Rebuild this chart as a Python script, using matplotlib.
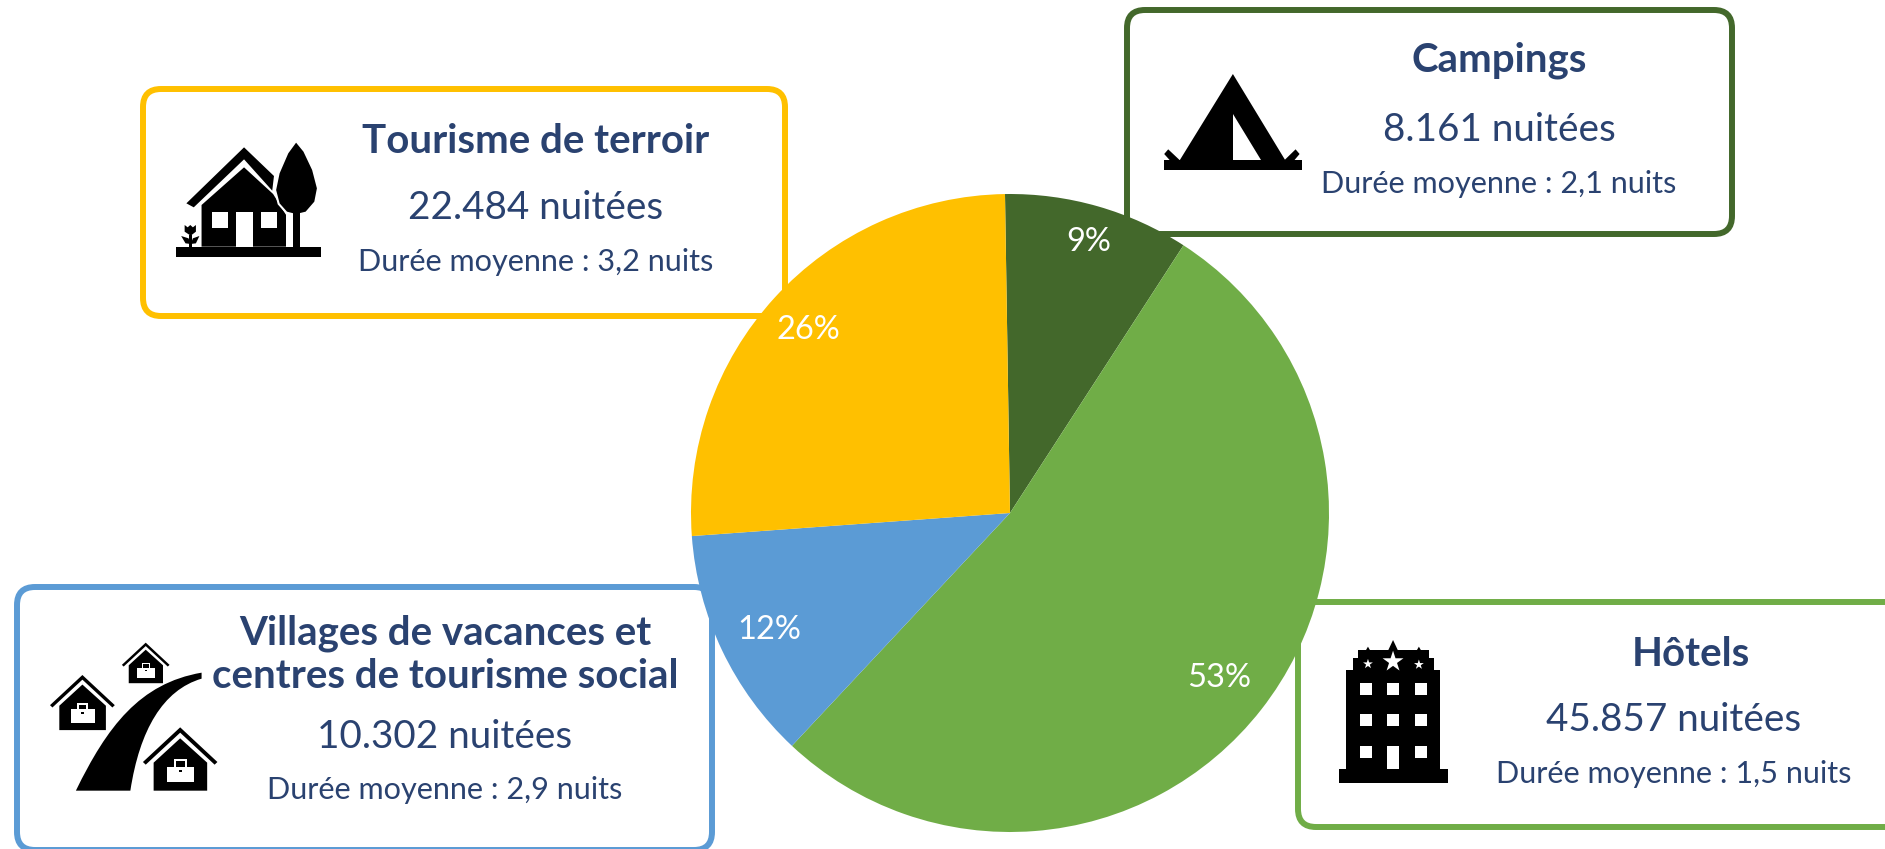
import matplotlib
matplotlib.use('Agg')
import numpy as np
import matplotlib.pyplot as plt
from matplotlib.patches import FancyBboxPatch, Polygon, PathPatch
from matplotlib.path import Path

plt.rcParams['font.family'] = ['Lato', 'DejaVu Sans']

# data
categories = ['Campings', 'Hôtels', 'Villages de vacances et\ncentres de tourisme social', 'Tourisme de terroir']
nuitees = [8161, 45857, 10302, 22484]
nuitees_labels = ['8.161 nuitées', '45.857 nuitées', '10.302 nuitées', '22.484 nuitées']
duree_labels = ['Durée moyenne : 2,1 nuits', 'Durée moyenne : 1,5 nuits',
                'Durée moyenne : 2,9 nuits', 'Durée moyenne : 3,2 nuits']
colors = ['#43682B', '#70AD47', '#5B9BD5', '#FFC000']

W, H = 1885, 849
NAVY = '#2A4270'

fig = plt.figure(figsize=(W / 100, H / 100), dpi=100, facecolor='white')
ax = fig.add_axes([0, 0, 1, 1])
ax.set_xlim(0, W)
ax.set_ylim(H, 0)
ax.axis('off')

# boxes: x0, y0, x1, y1 in pixels
boxes = [(1127, 10, 1732, 234), (1298, 602, 1905, 827), (17, 587, 712, 850), (143, 89, 785, 316)]
for (x0, y0, x1, y1), c in zip(boxes, colors):
    ax.add_patch(FancyBboxPatch((x0 + 18, y0 + 18), x1 - x0 - 36, y1 - y0 - 36,
                                boxstyle='round,pad=18,rounding_size=18',
                                fc='white', ec=c, lw=4.3, clip_on=False))

# text positions: title, nuitees, duree
title_pos = [(1499, 60), (1691, 654), (445, 655), (536, 141)]
nuit_pos = [(1499, 130), (1674, 720), (445, 737), (536, 208)]
duree_pos = [(1499, 184), (1674, 774), (445, 790), (536, 262)]
for i in range(4):
    ax.text(*title_pos[i], categories[i], ha='center', va='center', color=NAVY,
            fontsize=29, fontweight='bold', linespacing=1.2)
    ax.text(*nuit_pos[i], nuitees_labels[i], ha='center', va='center', color=NAVY, fontsize=27.8)
    ax.text(*duree_pos[i], duree_labels[i], ha='center', va='center', color=NAVY, fontsize=22.1)


# icons are traced in the coordinates of the zoomed crops
def mapper(x0, y0, sx, sy):
    return lambda pts: [(x0 + p[0] / sx, y0 + p[1] / sy) for p in pts]


def poly(m, pts, c='black', **kw):
    ax.add_patch(Polygon(m(pts), closed=True, fc=c, ec=kw.pop('ec', 'none'), lw=kw.pop('lw', 0), **kw))


def rect(m, x0, y0, x1, y1, c='black'):
    poly(m, [(x0, y0), (x1, y0), (x1, y1), (x0, y1)], c)


# house + tree
m = mapper(130, 70, 2.306, 3)
rect(m, 105, 530, 440, 560)
poly(m, [(130, 400), (263, 232), (332, 318), (328, 362), (263, 268), (147, 412)])
poly(m, [(165, 405), (263, 292), (330, 372), (360, 435), (360, 530), (165, 530)])
rect(m, 188, 427, 226, 475, 'white')
rect(m, 245, 427, 283, 530, 'white')
rect(m, 302, 427, 340, 475, 'white')
crown = [(383, 218), (365, 250), (345, 310), (337, 360), (345, 400), (362, 425), (383, 432),
         (405, 425), (425, 395), (431, 355), (420, 300), (400, 245)]
poly(m, crown, 'white', ec='white', lw=3)
poly(m, crown)
rect(m, 360, 432, 375, 530, 'white')
rect(m, 375, 430, 391, 530)
rect(m, 137, 495, 143, 530)
poly(m, [(126, 465), (133, 472), (139, 465), (145, 472), (152, 465), (152, 485), (140, 497), (126, 485)])
poly(m, [(118, 498), (135, 505), (140, 522), (128, 520)])
poly(m, [(160, 498), (145, 505), (140, 522), (152, 520)])

# tent
m = mapper(1120, 0, 2.489, 3)
rect(m, 110, 480, 452, 510)
poly(m, [(281, 222), (148, 482), (412, 482)])
poly(m, [(281, 343), (281, 480), (350, 480)], 'white')
poly(m, [(110, 462), (120, 448), (150, 482), (125, 482)])
poly(m, [(447, 462), (437, 448), (408, 482), (433, 482)])

# hotel
m = mapper(1280, 590, 2.592, 3)
rect(m, 152, 538, 436, 580)
rect(m, 172, 240, 415, 540)
rect(m, 188, 205, 400, 240)
rect(m, 203, 180, 385, 205)
poly(m, [(280, 182), (293, 150), (306, 182)])
poly(m, [(222, 182), (228, 170), (234, 182)])
poly(m, [(354, 182), (360, 170), (366, 182)])
for wy in (280, 373, 468):
    for wx in (208, 278, 350):
        rect(m, wx, wy, wx + 30, wy + 35 if not (wy == 468 and wx == 278) else 538, 'white')
star_pts = m([(228, 222), (293, 215), (360, 224)])
ax.scatter([p[0] for p in star_pts], [p[1] for p in star_pts], s=[55, 250, 55], marker='*', c='white', lw=0, zorder=3)

# villages: road and three houses
m = mapper(0, 570, 2.148, 3)
road = [(163, 662), (230, 470), (300, 340), (433, 308), (433, 326), (350, 360), (300, 480), (280, 662), (163, 662)]
codes = [Path.MOVETO, Path.CURVE4, Path.CURVE4, Path.CURVE4, Path.LINETO, Path.CURVE4, Path.CURVE4, Path.CURVE4, Path.CLOSEPOLY]
ax.add_patch(PathPatch(Path(m(road), codes), fc='black', lw=0))


def small_house(cx, apex, k):
    # k scales the big house, which is 190 high and 160 wide in crop units
    poly(m, [(cx - 80 * k, apex + 104 * k), (cx, apex), (cx + 80 * k, apex + 104 * k),
             (cx + 74 * k, apex + 112 * k), (cx, apex + 16 * k), (cx - 74 * k, apex + 112 * k)])
    poly(m, [(cx - 57 * k, apex + 106 * k), (cx, apex + 33 * k), (cx + 58 * k, apex + 106 * k),
             (cx + 58 * k, apex + 190 * k), (cx - 57 * k, apex + 190 * k)])
    rect(m, cx - 29 * k, apex + 118 * k, cx + 30 * k, apex + 165 * k, 'white')
    rect(m, cx - 14 * k, apex + 95 * k, cx + 15 * k, apex + 120 * k, 'white')
    rect(m, cx - 9 * k, apex + 102 * k, cx + 10 * k, apex + 118 * k, 'black')
    rect(m, cx - 3 * k, apex + 128 * k, cx + 3 * k, apex + 135 * k, 'black')


small_house(387, 472, 1.0)
small_house(177, 315, 0.87)
small_house(313, 218, 0.64)

# pie on its own axes, above the boxes
cx, cy, r = 1010, 513, 319
pie_ax = fig.add_axes([(cx - r) / W, 1 - (cy + r) / H, 2 * r / W, 2 * r / H], zorder=5)
wedges, _, autotexts = pie_ax.pie(nuitees, colors=colors, startangle=90.9, counterclock=False,
                                  radius=1, autopct='%1.0f%%', pctdistance=0.85,
                                  wedgeprops={'linewidth': 0},
                                  textprops={'color': 'white', 'fontsize': 23.5})
pie_ax.set_xlim(-1, 1)
pie_ax.set_ylim(-1, 1)
pie_ax.set_aspect('equal')
pie_ax.patch.set_alpha(0)
for w, t, d in zip(wedges, autotexts, [0.89, 0.832, 0.836, 0.858]):
    a = np.deg2rad((w.theta1 + w.theta2) / 2)
    t.set_position((d * np.cos(a), d * np.sin(a) - 0.006))

fig.savefig('out.png', dpi=100)
